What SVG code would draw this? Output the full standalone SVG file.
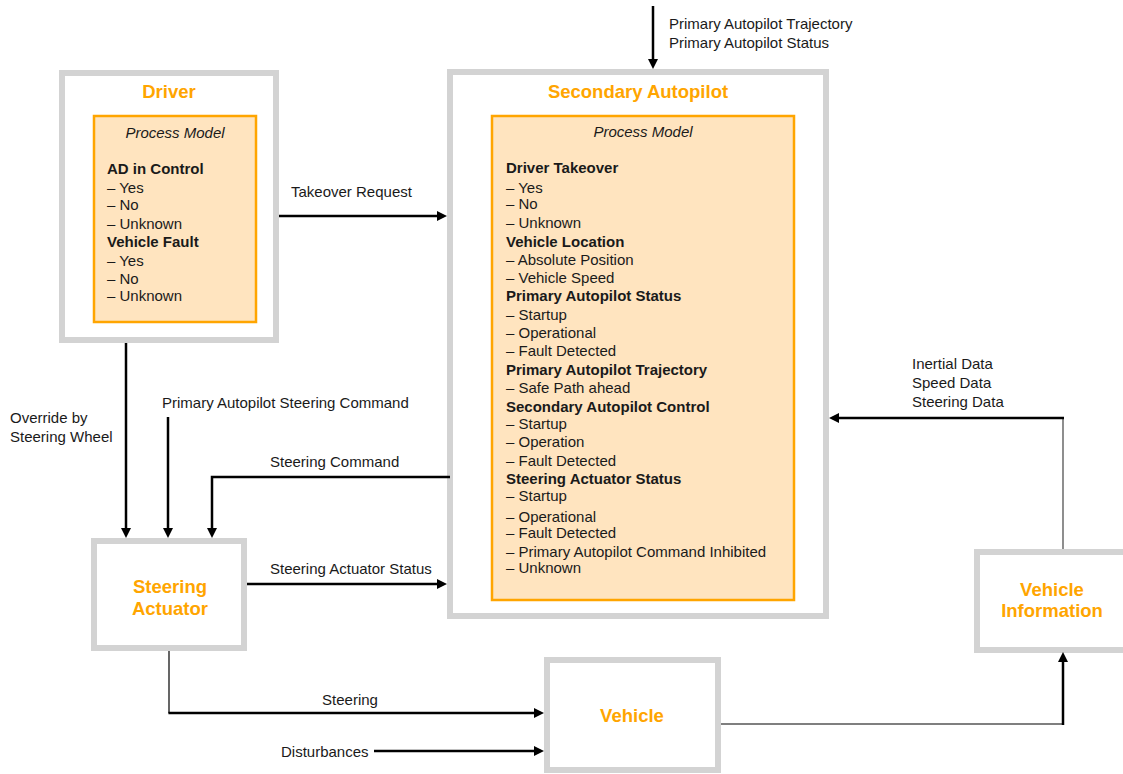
<svg xmlns="http://www.w3.org/2000/svg" width="1123" height="774" viewBox="0 0 1123 774">
  <style>
    .block { fill: #ffffff; stroke: #d3d3d3; stroke-width: 6; }
    .pm { fill: #ffe4bf; stroke: #ffa500; stroke-width: 2.5; }
    .title { font-family: "Liberation Sans", Arial, sans-serif; font-size: 18.5px; font-weight: bold; fill: #ffa500; text-anchor: middle; }
    .txt { font-family: "Liberation Sans", Arial, sans-serif; font-size: 15px; fill: #1a1a1a; }
    .hd { font-weight: bold; }
    .it { font-style: italic; text-anchor: middle; }
    .flow { fill: none; stroke: #000000; stroke-width: 2.5; }
    .thin { fill: none; stroke: #000000; stroke-width: 1.2; }
    .thin-grey { fill: none; stroke: #444444; stroke-width: 1.2; }
  </style>
  <defs>
    <marker id="arrow" viewBox="0 0 10 10" refX="2" refY="5" markerWidth="10" markerHeight="10" markerUnits="userSpaceOnUse" orient="auto">
      <path d="M0,0 L10,5 L0,10 z" fill="#000000"/>
    </marker>
  </defs>
  <rect width="1123" height="774" fill="#ffffff"/>

  <!-- Driver -->
  <g id="driver">
    <rect class="block" x="62" y="73" width="214" height="267"/>
    <text class="title" x="169" y="98">Driver</text>
    <rect class="pm" x="94" y="116" width="162" height="206"/>
    <text class="txt it" x="175" y="138">Process Model</text>
    <text class="txt hd" x="107" y="174">AD in Control</text>
    <text class="txt" x="107" y="193">– Yes</text>
    <text class="txt" x="107" y="210">– No</text>
    <text class="txt" x="107" y="229">– Unknown</text>
    <text class="txt hd" x="107" y="247">Vehicle Fault</text>
    <text class="txt" x="107" y="266">– Yes</text>
    <text class="txt" x="107" y="284">– No</text>
    <text class="txt" x="107" y="301">– Unknown</text>
  </g>

  <!-- Secondary Autopilot -->
  <g id="secondary-autopilot">
    <rect class="block" x="450" y="72" width="376" height="544"/>
    <text class="title" x="638" y="98">Secondary Autopilot</text>
    <rect class="pm" x="492" y="116" width="302" height="484"/>
    <text class="txt it" x="643" y="137">Process Model</text>
    <text class="txt hd" x="506" y="173">Driver Takeover</text>
    <text class="txt" x="506" y="193">– Yes</text>
    <text class="txt" x="506" y="209">– No</text>
    <text class="txt" x="506" y="228">– Unknown</text>
    <text class="txt hd" x="506" y="247">Vehicle Location</text>
    <text class="txt" x="506" y="265">– Absolute Position</text>
    <text class="txt" x="506" y="283">– Vehicle Speed</text>
    <text class="txt hd" x="506" y="301">Primary Autopilot Status</text>
    <text class="txt" x="506" y="320">– Startup</text>
    <text class="txt" x="506" y="338">– Operational</text>
    <text class="txt" x="506" y="356">– Fault Detected</text>
    <text class="txt hd" x="506" y="375">Primary Autopilot Trajectory</text>
    <text class="txt" x="506" y="393">– Safe Path ahead</text>
    <text class="txt hd" x="506" y="412">Secondary Autopilot Control</text>
    <text class="txt" x="506" y="429">– Startup</text>
    <text class="txt" x="506" y="447">– Operation</text>
    <text class="txt" x="506" y="466">– Fault Detected</text>
    <text class="txt hd" x="506" y="484">Steering Actuator Status</text>
    <text class="txt" x="506" y="501">– Startup</text>
    <text class="txt" x="506" y="522">– Operational</text>
    <text class="txt" x="506" y="538">– Fault Detected</text>
    <text class="txt" x="506" y="557">– Primary Autopilot Command Inhibited</text>
    <text class="txt" x="506" y="573">– Unknown</text>
  </g>

  <!-- Steering Actuator -->
  <g id="steering-actuator">
    <rect class="block" x="94" y="541" width="150" height="107"/>
    <text class="title" x="170" y="593">Steering</text>
    <text class="title" x="170" y="615">Actuator</text>
  </g>

  <!-- Vehicle -->
  <g id="vehicle">
    <rect class="block" x="547" y="660" width="171" height="110"/>
    <text class="title" x="632" y="722">Vehicle</text>
  </g>

  <!-- Vehicle Information -->
  <g id="vehicle-information">
    <rect class="block" x="977" y="552" width="160" height="98"/>
    <text class="title" x="1052" y="596">Vehicle</text>
    <text class="title" x="1052" y="617">Information</text>
  </g>

  <!-- Connectors -->
  <g id="connectors">
    <!-- external input to Secondary Autopilot -->
    <line class="flow" x1="653" y1="6" x2="653" y2="61" marker-end="url(#arrow)"/>
    <!-- Driver -> Secondary Autopilot -->
    <line class="flow" x1="279" y1="216" x2="439" y2="216" marker-end="url(#arrow)"/>
    <!-- Driver -> Steering Actuator -->
    <line class="flow" x1="126" y1="343" x2="126" y2="530" marker-end="url(#arrow)"/>
    <!-- Primary autopilot command -> Steering Actuator -->
    <line class="flow" x1="168" y1="417" x2="168" y2="530" marker-end="url(#arrow)"/>
    <!-- Secondary Autopilot -> Steering Actuator -->
    <path class="flow" d="M450,477 H212 V530" marker-end="url(#arrow)"/>
    <!-- Steering Actuator -> Secondary Autopilot -->
    <line class="flow" x1="247" y1="584" x2="439" y2="584" marker-end="url(#arrow)"/>
    <!-- Steering Actuator -> Vehicle -->
    <line class="thin" x1="169" y1="651" x2="169" y2="713"/>
    <line class="flow" x1="168.4" y1="713" x2="536" y2="713" marker-end="url(#arrow)"/>
    <!-- Disturbances -> Vehicle -->
    <line class="flow" x1="374" y1="751" x2="536" y2="751" marker-end="url(#arrow)"/>
    <!-- Vehicle -> Vehicle Information -->
    <line class="thin" x1="721" y1="724" x2="1063" y2="724"/>
    <line class="flow" x1="1063" y1="725" x2="1063" y2="660" marker-end="url(#arrow)"/>
    <!-- Vehicle Information -> Secondary Autopilot -->
    <line class="thin-grey" x1="1063" y1="549" x2="1063" y2="418"/>
    <line class="flow" x1="1064" y1="418" x2="837" y2="418" marker-end="url(#arrow)"/>

    <!-- connector labels -->
    <text class="txt" x="669" y="29">Primary Autopilot Trajectory</text>
    <text class="txt" x="669" y="48">Primary Autopilot Status</text>
    <text class="txt" x="291" y="197">Takeover Request</text>
    <text class="txt" x="10" y="423">Override by</text>
    <text class="txt" x="10" y="442">Steering Wheel</text>
    <text class="txt" x="162" y="408">Primary Autopilot Steering Command</text>
    <text class="txt" x="270" y="467">Steering Command</text>
    <text class="txt" x="270" y="574">Steering Actuator Status</text>
    <text class="txt" x="350" y="705" text-anchor="middle">Steering</text>
    <text class="txt" x="281" y="757">Disturbances</text>
    <text class="txt" x="912" y="369">Inertial Data</text>
    <text class="txt" x="912" y="388">Speed Data</text>
    <text class="txt" x="912" y="407">Steering Data</text>
  </g>
</svg>
